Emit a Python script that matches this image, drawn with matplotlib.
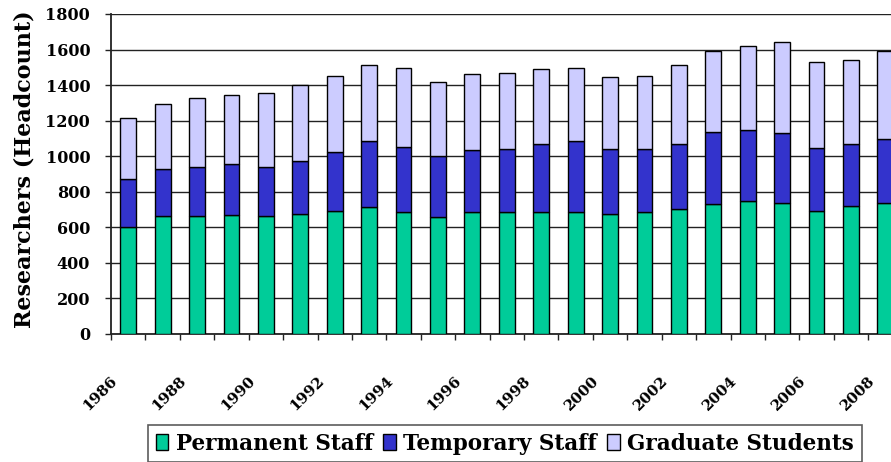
import matplotlib
matplotlib.use("Agg")
import matplotlib.pyplot as plt
import matplotlib.transforms as mtransforms
from matplotlib.patches import Patch
import numpy as np

years = list(range(1986, 2009))
permanent = [600, 662, 662, 669, 662, 677, 694, 712, 686, 660, 686, 686, 686, 686, 677, 686, 703, 729, 746, 739, 694, 722, 739]
perm_plus_temp = [870, 930, 937, 956, 937, 972, 1026, 1086, 1050, 999, 1035, 1042, 1069, 1087, 1042, 1042, 1069, 1138, 1148, 1131, 1044, 1069, 1095]
totals = [1215, 1296, 1329, 1342, 1356, 1398, 1453, 1513, 1498, 1417, 1461, 1470, 1489, 1498, 1447, 1453, 1513, 1594, 1618, 1644, 1530, 1539, 1594]
temporary = [b - a for a, b in zip(permanent, perm_plus_temp)]
graduate = [c - b for b, c in zip(perm_plus_temp, totals)]
series_names = ["Permanent Staff", "Temporary Staff", "Graduate Students"]
colors = ["#00CC99", "#3333CC", "#CCCCFF"]
ytick_vals = list(range(0, 1801, 200))
label_years = [y for y in years if y % 2 == 0]

FONT = "DejaVu Serif"
plt.rcParams["font.family"] = FONT
plt.rcParams["font.weight"] = "bold"

W, H = 891, 462
fig = plt.figure(figsize=(W / 100, H / 100), dpi=100)
ax_left, ax_right = 111, 937
ax_top, ax_bottom = 14, 334
ax = fig.add_axes([ax_left / W, (H - ax_bottom) / H, (ax_right - ax_left) / W, (ax_bottom - ax_top) / H])

x = np.arange(len(years))
bw = 0.46
ax.bar(x, permanent, bw, color=colors[0], edgecolor="black", linewidth=1.0, zorder=3)
ax.bar(x, temporary, bw, bottom=permanent, color=colors[1], edgecolor="black", linewidth=1.0, zorder=3)
ax.bar(x, graduate, bw, bottom=perm_plus_temp, color=colors[2], edgecolor="black", linewidth=1.0, zorder=3)

ax.set_xlim(-0.5, 23.5)
ax.set_ylim(0, 1800)
ax.set_yticks(ytick_vals)
ax.set_yticklabels([str(v) for v in ytick_vals])
ax.yaxis.grid(True, color="#222222", linewidth=1.0, zorder=0)
ax.set_axisbelow(True)

for s in ["top", "right"]:
    ax.spines[s].set_visible(False)
ax.spines["left"].set_color("#222222")
ax.spines["left"].set_linewidth(1.3)
ax.spines["bottom"].set_color("#222222")
ax.spines["bottom"].set_linewidth(1.3)

ax.tick_params(axis="y", direction="out", length=4, width=1, color="#222222", pad=11, labelsize=11.5)
ax.set_xticks([years.index(y) for y in label_years])
ax.set_xticklabels([str(y) for y in label_years], rotation=45, ha="right", va="center",
                   rotation_mode="anchor", fontsize=10.8)
ax.tick_params(axis="x", which="major", length=0, pad=32)
ax.set_xticks(np.arange(-0.5, 24, 1.0), minor=True)
ax.tick_params(axis="x", which="minor", direction="out", length=4, width=1, color="#222222")

offset = mtransforms.ScaledTranslation(-13 / 100, 0, fig.dpi_scale_trans)
for lab in ax.get_xticklabels():
    lab.set_transform(lab.get_transform() + offset)

ax.set_ylabel("Researchers (Headcount)", fontsize=16, fontweight="bold")
ax.yaxis.set_label_coords(-0.092, 0.515)

handles = [Patch(facecolor=c, edgecolor="black", linewidth=1.0) for c in colors]
leg = fig.legend(handles, series_names, loc="upper left", bbox_to_anchor=(148 / W, 1 - 425 / H),
                 ncol=3, frameon=True, fancybox=False, edgecolor="#333333",
                 fontsize=15.5, handlelength=0.6, handleheight=0.8, handletextpad=0.35,
                 columnspacing=0.45, borderpad=0.35, borderaxespad=0)
leg.get_frame().set_linewidth(1.2)

fig.savefig("out.png", dpi=100)
